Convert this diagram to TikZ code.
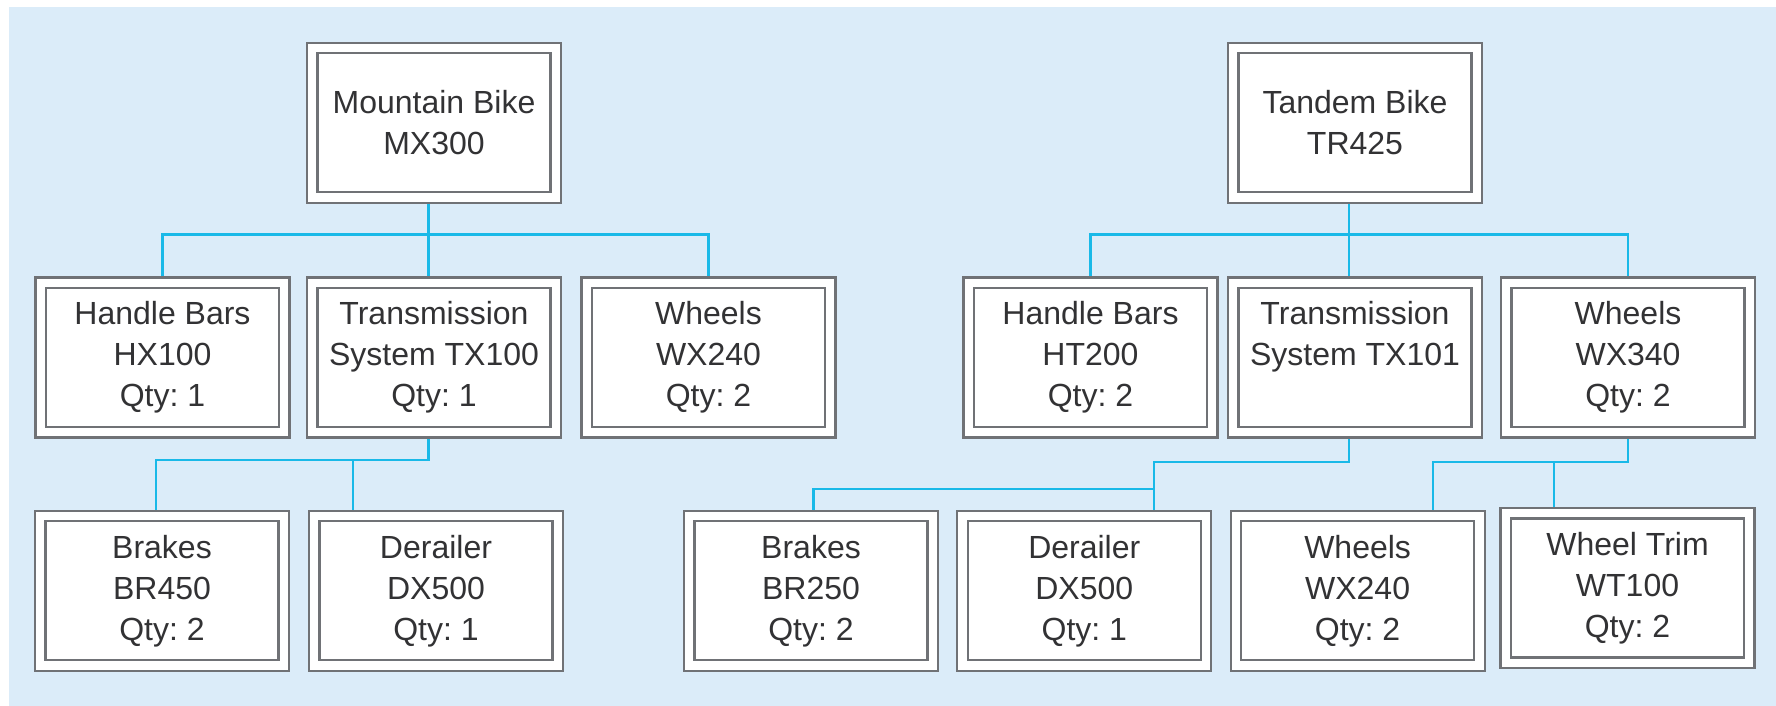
\documentclass[tikz,border=0pt]{standalone}
\usepackage{fontspec}
\setmainfont{Liberation Sans}
\frenchspacing
\definecolor{bgblue}{RGB}{219,236,249}
\definecolor{wire}{RGB}{25,185,232}
\definecolor{frame}{RGB}{112,114,118}
\definecolor{txt}{RGB}{50,50,52}
\pgfdeclarelayer{back}
\pgfdeclarelayer{wires}
\pgfsetlayers{back,wires,main}
\begin{document}
\begin{tikzpicture}[x=1pt,y=-1pt,
  part/.style={draw=frame, line width=2.2pt, double=white, double distance=8.3pt,
    fill=white, minimum width=243.5pt, minimum height=149.5pt, inner sep=0pt,
    align=center, text=txt, font=\fontsize{32}{41}\selectfont\frenchspacing},
  link/.style={draw=wire, line width=2.4pt}]
\useasboundingbox (0,0) rectangle (1776,706);
\begin{pgfonlayer}{back}
\fill[bgblue] (9,7) rectangle (1776,706);
\end{pgfonlayer}

% top level
\node[part] (mb) at (434,122.7) {Mountain Bike\\MX300};
\node[part] (tb) at (1355,122.7) {Tandem Bike\\TR425};

% second level
\node[part] (hb1) at (162.5,357.5) {Handle Bars\\HX100\\Qty: 1};
\node[part] (tx1) at (434,357.5) {Transmission\\System TX100\\Qty: 1};
\node[part] (wh1) at (708.5,357.5) {Wheels\\WX240\\Qty: 2};
\node[part] (hb2) at (1090.5,357.5) {Handle Bars\\HT200\\Qty: 2};
\node[part] (tx2) at (1355,357.5) {Transmission\\System TX101\\\vphantom{Qty: 2}};
\node[part] (wh2) at (1628,357.5) {Wheels\\WX340\\Qty: 2};

% third level
\node[part] (br1) at (162,590.8) {Brakes\\BR450\\Qty: 2};
\node[part] (dr1) at (436,590.8) {Derailer\\DX500\\Qty: 1};
\node[part] (br2) at (811,590.8) {Brakes\\BR250\\Qty: 2};
\node[part] (dr2) at (1084.3,590.8) {Derailer\\DX500\\Qty: 1};
\node[part] (wh3) at (1357.6,590.8) {Wheels\\WX240\\Qty: 2};
\node[part] (wt) at (1627.5,588) {Wheel Trim\\WT100\\Qty: 2};

% bus levels and connector tops
\coordinate (busA) at (0,234.3);
\coordinate (busB) at (0,460);
\coordinate (busC) at (0,462);
\coordinate (busD) at (0,488.7);
\coordinate (b1top) at ([xshift=-6pt]br1.north);
\coordinate (d1top) at ([xshift=-83pt]dr1.north);
\coordinate (b2top) at ([xshift=2.5pt]br2.north);
\coordinate (d2top) at ([xshift=69.5pt]dr2.north);
\coordinate (w3top) at ([xshift=75.4pt]wh3.north);
\coordinate (wttop) at ([xshift=-73.8pt]wt.north);

\begin{pgfonlayer}{wires}
% Mountain bike
\draw[link] ([xshift=-5.4pt]mb.south) -- ([xshift=-5.4pt]tx1.north);
\draw[link] (hb1.north) |- (wh1.north |- busA) -- (wh1.north);
% Tandem bike
\draw[link] ([xshift=-6pt]tb.south) -- ([xshift=-6pt]tx2.north);
\draw[link] (hb2.north) |- (wh2.north |- busA) -- (wh2.north);
% Transmission TX100
\draw[link] ([xshift=-5.4pt]tx1.south) |- (b1top |- busB) -- (b1top);
\draw[link] (d1top |- busB) -- (d1top);
% Transmission TX101
\draw[link] ([xshift=-6pt]tx2.south) |- (d2top |- busC) -- (d2top);
\draw[link] (b2top) |- (d2top |- busD);
% Wheels WX340
\draw[link] (wh2.south) |- (w3top |- busC) -- (w3top);
\draw[link] (wttop |- busC) -- (wttop);
\end{pgfonlayer}
\end{tikzpicture}
\end{document}
